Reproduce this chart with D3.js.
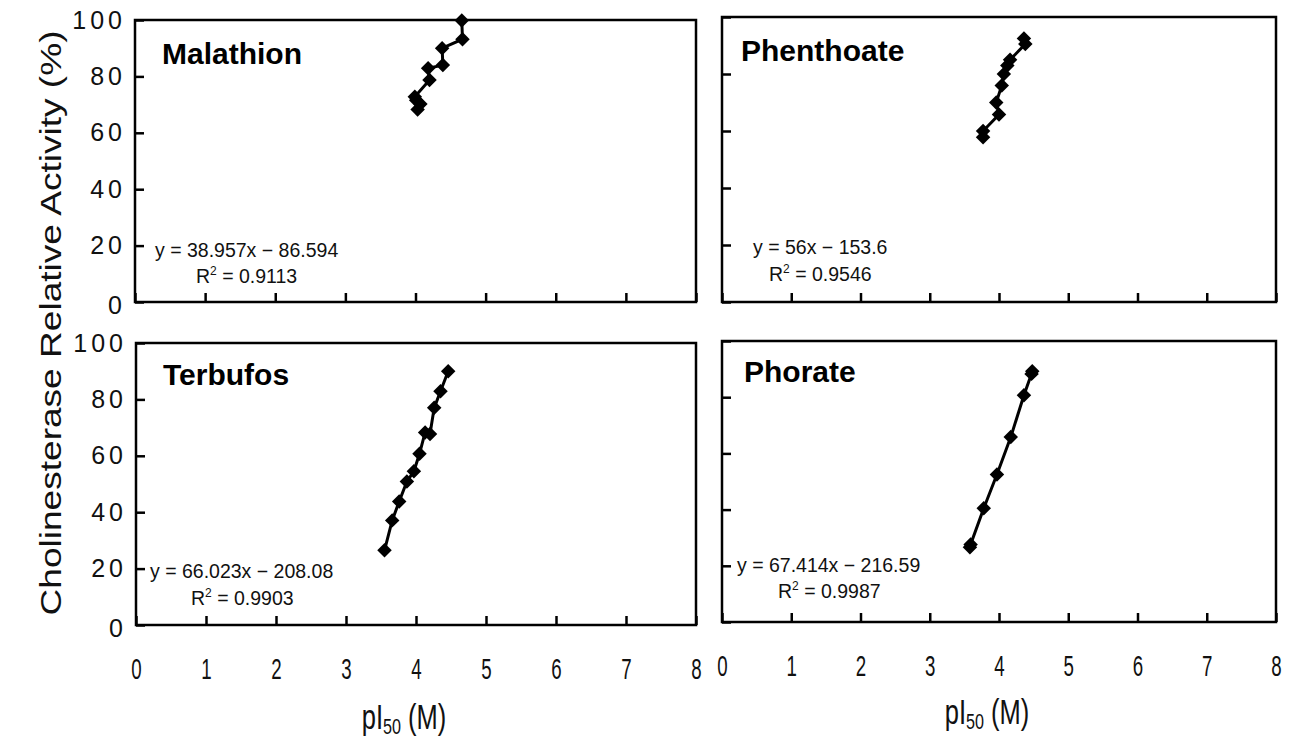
<!DOCTYPE html>
<html><head><meta charset="utf-8">
<script src="https://cdn.jsdelivr.net/npm/d3@7"></script>
<style>body{margin:0;background:#fff}</style>
</head><body><svg id="c" width="1294" height="740"></svg>
<script>
// ---- data ----
const compounds = ["Malathion", "Phenthoate", "Terbufos", "Phorate"];
const malathionX = [4.03, 4.07, 4.01, 3.99, 4.20, 4.18, 4.39, 4.38, 4.67, 4.66];
const malathionY = [68.3, 70.2, 71.5, 72.8, 78.7, 82.9, 84.0, 90.0, 93.2, 99.8];
const phenthoateX = [3.77, 3.77, 4.00, 3.96, 4.04, 4.07, 4.12, 4.16, 4.38, 4.36];
const phenthoateY = [57.8, 60.0, 65.8, 70.0, 76.0, 80.0, 83.0, 85.0, 90.5, 92.5];
const terbufosX = [3.55, 3.66, 3.76, 3.87, 3.97, 4.05, 4.13, 4.20, 4.26, 4.35, 4.46];
const terbufosY = [26.5, 37.1, 43.8, 50.9, 54.5, 60.7, 68.3, 67.7, 77.0, 82.9, 90.0];
const phorateX = [3.58, 3.59, 3.78, 3.97, 4.17, 4.36, 4.47, 4.48];
const phorateY = [26.6, 27.6, 40.5, 52.5, 65.8, 80.7, 88.3, 89.2];
const equations = ["y = 38.957x − 86.594", "y = 56x − 153.6", "y = 66.023x − 208.08", "y = 67.414x − 216.59"];
const r2Values = ["0.9113", "0.9546", "0.9903", "0.9987"];
const xTicks = [0, 1, 2, 3, 4, 5, 6, 7, 8];
const yTicks = [0, 20, 40, 60, 80, 100];
const yTitle = "Cholinesterase Relative Activity (%)";

const seriesX = [malathionX, phenthoateX, terbufosX, phorateX];
const seriesY = [malathionY, phenthoateY, terbufosY, phorateY];

// ---- layout ----
const layout = [
  {x0:135, x1:696, y0:20,  y1:302, title:[162,64],  eq:[155,257], r2:[196,283], yLab:true,  xLab:false},
  {x0:722, x1:1276,y0:17,  y1:302, title:[741,61],  eq:[753,254], r2:[769,281], yLab:false, xLab:false},
  {x0:136, x1:696, y0:343, y1:625, title:[163,385], eq:[150,578], r2:[191,605], yLab:true,  xLab:true},
  {x0:722, x1:1276,y0:341, y1:622, title:[744,382], eq:[737,572], r2:[778,598], yLab:false, xLab:true}
];

const svg = d3.select("#c");
const font = "'Liberation Sans', Arial, sans-serif";

layout.forEach((L, i) => {
  const x = d3.scaleLinear().domain([0, 8]).range([L.x0, L.x1]);
  const y = d3.scaleLinear().domain([0, 100]).range([L.y1, L.y0]);
  const g = svg.append("g");

  // y axis
  const ya = d3.axisLeft(y).tickValues(yTicks).tickSizeInner(-9).tickSizeOuter(0).tickPadding(9);
  if (!L.yLab) ya.tickFormat("");
  const yg = g.append("g").attr("transform", `translate(${L.x0},0)`).call(ya);
  yg.select(".domain").remove();
  yg.selectAll("line").attr("stroke", "#000").attr("stroke-width", 2.5);
  yg.selectAll("text").attr("font-family", font).attr("font-size", 25).attr("letter-spacing", "4px")
    .attr("dy", (d) => d === 0 ? "0.45em" : "0.32em").attr("fill", "#111");

  // x axis
  const xa = d3.axisBottom(x).tickValues(xTicks).tickSizeInner(-9).tickSizeOuter(0).tickPadding(28);
  if (!L.xLab) xa.tickFormat("");
  const xg = g.append("g").attr("transform", `translate(0,${L.y1})`).call(xa);
  xg.select(".domain").remove();
  xg.selectAll("line").attr("stroke", "#000").attr("stroke-width", 2.5);
  xg.selectAll("text").attr("font-family", font).attr("font-size", 24).attr("fill", "#111")
    .attr("transform", "scale(0.78,1.2)");

  // frame
  g.append("rect").attr("x", L.x0).attr("y", L.y0).attr("width", L.x1 - L.x0).attr("height", L.y1 - L.y0)
    .attr("fill", "none").attr("stroke", "#000").attr("stroke-width", 2.5);

  // data
  const pts = seriesX[i].map((v, j) => [v, seriesY[i][j]]);
  g.append("path").datum(pts)
    .attr("d", d3.line().x(d => x(d[0])).y(d => y(d[1])))
    .attr("fill", "none").attr("stroke", "#000").attr("stroke-width", 3);
  g.selectAll(".pt").data(pts).enter().append("path")
    .attr("d", d3.symbol(d3.symbolSquare, 105))
    .attr("transform", d => `translate(${x(d[0])},${y(d[1])}) rotate(45)`)
    .attr("fill", "#000");

  // title
  g.append("text").attr("x", L.title[0]).attr("y", L.title[1]).text(compounds[i])
    .attr("font-family", font).attr("font-weight", "bold").attr("font-size", 30).attr("fill", "#000");

  // equations
  g.append("text").attr("x", L.eq[0]).attr("y", L.eq[1]).text(equations[i])
    .attr("font-family", font).attr("font-size", 19.5).attr("fill", "#111");
  const r = g.append("text").attr("x", L.r2[0]).attr("y", L.r2[1])
    .attr("font-family", font).attr("font-size", 19.5).attr("fill", "#111");
  r.append("tspan").text("R");
  r.append("tspan").text("2").attr("font-size", 12).attr("dy", -8);
  r.append("tspan").text(" = " + r2Values[i]).attr("dy", 8);

  // x title
  if (L.xLab) {
    const cx = (L.x0 + L.x1) / 2 - 12, cy = i === 2 ? 729 : 724;
    const t = g.append("text").attr("transform", `translate(${cx},${cy}) scale(0.85,1.15)`)
      .attr("text-anchor", "middle").attr("font-family", font).attr("font-size", 30).attr("fill", "#111");
    t.append("tspan").text("pI");
    t.append("tspan").text("50").attr("font-size", 19).attr("dy", 4);
    t.append("tspan").text(" (M)").attr("dy", -4);
  }
});

// y title
svg.append("text").attr("transform", "translate(61,323) rotate(-90)")
  .attr("text-anchor", "middle").attr("font-family", font).attr("font-size", 30)
  .attr("textLength", 585).attr("lengthAdjust", "spacingAndGlyphs").attr("fill", "#111")
  .text(yTitle);
</script></body></html>
